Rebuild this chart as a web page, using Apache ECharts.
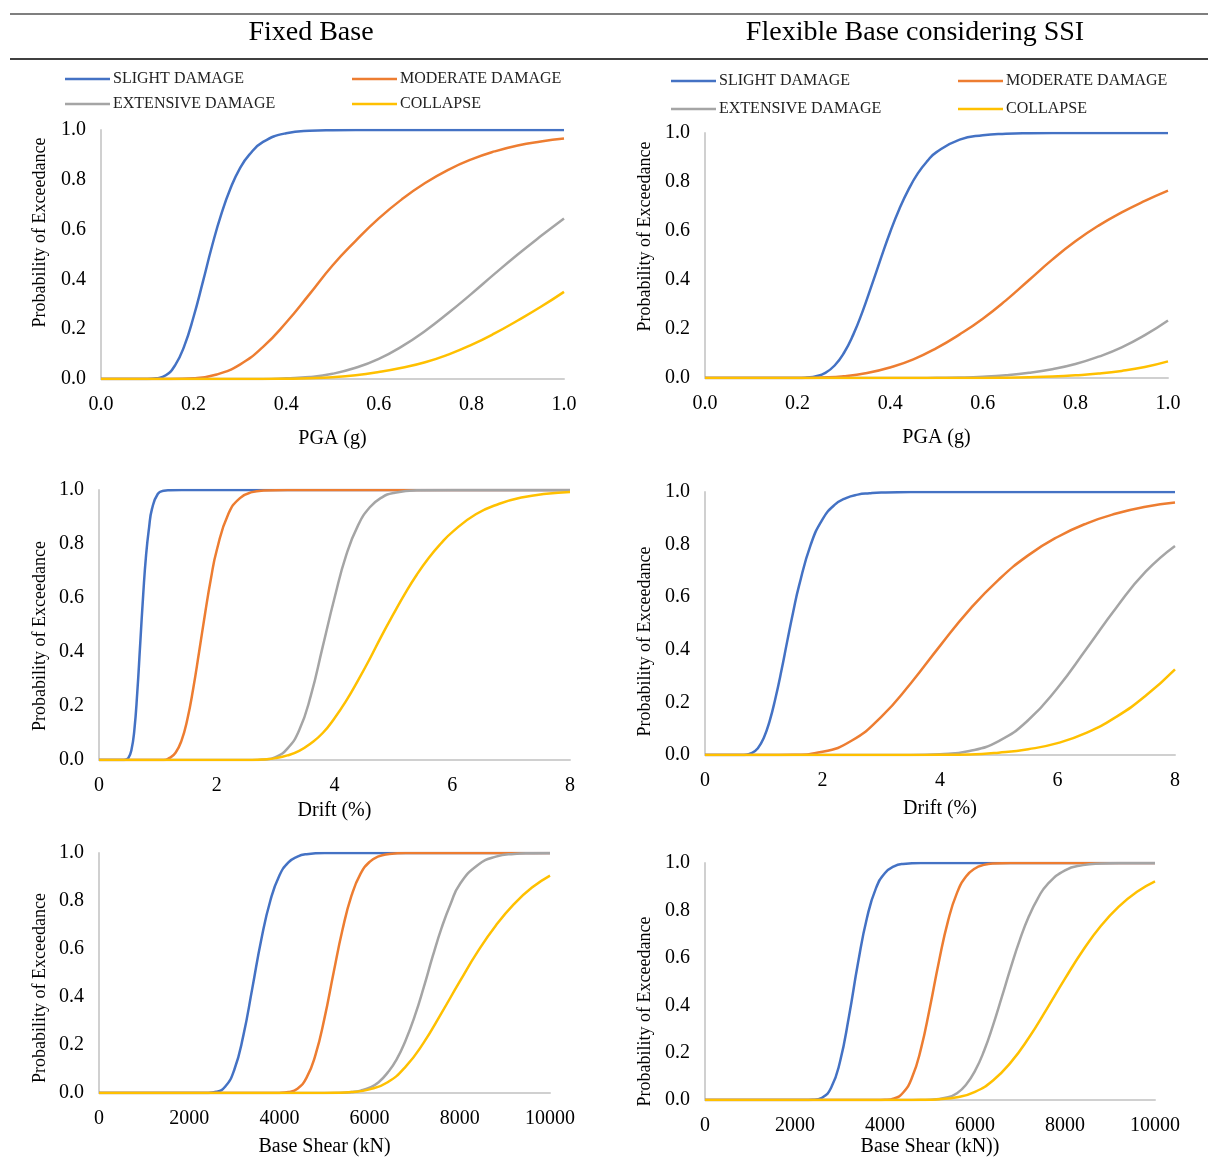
<!DOCTYPE html>
<html>
<head>
<meta charset="utf-8">
<script src="https://cdn.jsdelivr.net/npm/echarts@6/dist/echarts.min.js"></script>
<style>
  html, body { margin: 0; padding: 0; background: #fff; }
  #main { width: 1208px; height: 1158px; }
</style>
</head>
<body>
<div id="main"></div>
<script>
// damage states
const stateNames = ["SLIGHT DAMAGE", "MODERATE DAMAGE", "EXTENSIVE DAMAGE", "COLLAPSE"];
const stateColors = ["#4472C4", "#ED7D31", "#A5A5A5", "#FFC000"];

// Fixed base - PGA (g)
const fixedPgaSlight = [[0,0],[0.1,0],[0.12,0.003],[0.14,0.015],[0.16,0.055],[0.18,0.133],[0.2,0.25],[0.22,0.39],[0.24,0.535],[0.26,0.663],[0.28,0.767],[0.3,0.846],[0.32,0.9],[0.35,0.952],[0.4,0.987],[0.45,0.997],[0.5,0.999],[0.6,1],[1,1]];
const fixedPgaModerate = [[0,0],[0.15,0],[0.2,0.003],[0.25,0.018],[0.3,0.058],[0.35,0.129],[0.4,0.227],[0.45,0.34],[0.5,0.456],[0.55,0.555],[0.6,0.645],[0.65,0.722],[0.7,0.787],[0.75,0.84],[0.8,0.882],[0.85,0.914],[0.9,0.938],[0.95,0.954],[1,0.966]];
const fixedPgaExtensive = [[0,0],[0.35,0],[0.4,0.003],[0.45,0.008],[0.5,0.021],[0.55,0.045],[0.6,0.081],[0.65,0.131],[0.7,0.193],[0.75,0.265],[0.8,0.342],[0.85,0.422],[0.9,0.5],[0.95,0.574],[1,0.645]];
const fixedPgaCollapse = [[0,0],[0.35,0],[0.4,0.001],[0.45,0.003],[0.5,0.007],[0.55,0.015],[0.6,0.028],[0.65,0.045],[0.7,0.067],[0.75,0.098],[0.8,0.137],[0.85,0.183],[0.9,0.235],[0.95,0.29],[1,0.35]];

// Flexible base (SSI) - PGA (g)
const ssiPgaSlight = [[0,0],[0.2,0],[0.22,0.002],[0.24,0.007],[0.26,0.021],[0.28,0.051],[0.3,0.102],[0.32,0.176],[0.34,0.27],[0.36,0.378],[0.38,0.489],[0.4,0.596],[0.42,0.691],[0.44,0.771],[0.46,0.836],[0.48,0.885],[0.5,0.922],[0.55,0.973],[0.6,0.991],[0.65,0.997],[0.7,0.999],[0.8,1],[1,1]];
const ssiPgaModerate = [[0,0],[0.2,0],[0.25,0.002],[0.3,0.007],[0.35,0.02],[0.4,0.043],[0.45,0.076],[0.5,0.122],[0.55,0.178],[0.6,0.242],[0.65,0.317],[0.7,0.4],[0.75,0.483],[0.8,0.558],[0.85,0.622],[0.9,0.676],[0.95,0.723],[1,0.765]];
const ssiPgaExtensive = [[0,0],[0.45,0],[0.5,0.001],[0.55,0.002],[0.6,0.005],[0.65,0.011],[0.7,0.021],[0.75,0.036],[0.8,0.057],[0.85,0.087],[0.9,0.125],[0.95,0.175],[1,0.235]];
const ssiPgaCollapse = [[0,0],[0.6,0],[0.65,0.001],[0.7,0.003],[0.75,0.006],[0.8,0.011],[0.85,0.018],[0.9,0.029],[0.95,0.045],[1,0.068]];

// Fixed base - Drift (%)
const fixedDriftSlight = [[0,0],[0.4,0],[0.45,0.001],[0.5,0.008],[0.55,0.036],[0.6,0.11],[0.65,0.25],[0.7,0.43],[0.75,0.61],[0.8,0.76],[0.85,0.86],[0.9,0.93],[1,0.986],[1.1,0.997],[1.2,0.999],[1.4,1],[8,1]];
const fixedDriftModerate = [[0,0],[1.1,0],[1.2,0.008],[1.3,0.027],[1.4,0.071],[1.5,0.15],[1.6,0.264],[1.7,0.4],[1.8,0.54],[1.9,0.67],[2,0.777],[2.2,0.913],[2.4,0.971],[2.6,0.992],[2.8,0.998],[3.2,1],[8,1]];
const fixedDriftExtensive = [[0,0],[2.6,0],[2.8,0.002],[3,0.011],[3.2,0.042],[3.4,0.11],[3.6,0.24],[3.8,0.42],[4,0.6],[4.2,0.76],[4.4,0.869],[4.6,0.936],[4.8,0.972],[5,0.989],[5.4,0.999],[6,1],[8,1]];
const fixedDriftCollapse = [[0,0],[2.6,0],[2.8,0.002],[3,0.007],[3.2,0.017],[3.4,0.034],[3.6,0.062],[3.8,0.1],[4,0.155],[4.2,0.22],[4.4,0.295],[4.6,0.375],[4.8,0.46],[5,0.54],[5.2,0.617],[5.4,0.687],[5.6,0.748],[5.8,0.8],[6,0.844],[6.4,0.91],[6.8,0.949],[7.2,0.973],[7.6,0.986],[8,0.993]];

// Flexible base (SSI) - Drift (%)
const ssiDriftSlight = [[0,0],[0.6,0],[0.8,0.008],[0.9,0.026],[1,0.065],[1.1,0.129],[1.2,0.217],[1.3,0.32],[1.4,0.433],[1.5,0.543],[1.6,0.643],[1.8,0.8],[2,0.896],[2.2,0.95],[2.4,0.977],[2.6,0.99],[2.8,0.995],[3,0.998],[3.5,1],[8,1]];
const ssiDriftModerate = [[0,0],[1,0],[1.5,0.001],[2,0.012],[2.5,0.055],[3,0.145],[3.5,0.272],[4,0.415],[4.5,0.552],[5,0.667],[5.5,0.759],[6,0.829],[6.5,0.881],[7,0.918],[7.5,0.944],[8,0.96]];
const ssiDriftExtensive = [[0,0],[3.5,0],[4,0.003],[4.5,0.015],[5,0.053],[5.5,0.132],[6,0.255],[6.5,0.406],[7,0.56],[7.5,0.697],[8,0.795]];
const ssiDriftCollapse = [[0,0],[3.5,0],[4,0.0005],[4.5,0.002],[5,0.009],[5.5,0.022],[6,0.045],[6.5,0.085],[7,0.145],[7.5,0.225],[8,0.326]];

// Fixed base - Base shear (kN)
const fixedShearSlight = [[0,0],[2200,0],[2400,0.0004],[2600,0.005],[2800,0.027],[3000,0.097],[3200,0.239],[3400,0.437],[3600,0.641],[3800,0.802],[4000,0.906],[4200,0.961],[4400,0.985],[4600,0.995],[5000,1],[10000,1]];
const fixedShearModerate = [[0,0],[3800,0],[4000,0.0005],[4200,0.004],[4400,0.018],[4600,0.063],[4800,0.159],[5000,0.312],[5200,0.5],[5400,0.681],[5600,0.823],[5800,0.914],[6000,0.963],[6200,0.986],[6400,0.995],[6800,1],[10000,1]];
const fixedShearExtensive = [[0,0],[5000,0],[5400,0.001],[5600,0.004],[5800,0.01],[6000,0.022],[6200,0.045],[6400,0.085],[6600,0.14],[6800,0.22],[7000,0.32],[7200,0.44],[7400,0.57],[7600,0.69],[7800,0.79],[8000,0.87],[8400,0.95],[8800,0.985],[9200,0.996],[9600,0.999],[10000,1]];
const fixedShearCollapse = [[0,0],[4800,0],[5200,0.001],[5600,0.004],[6000,0.015],[6400,0.045],[6800,0.11],[7200,0.21],[7600,0.335],[8000,0.465],[8400,0.59],[8800,0.698],[9200,0.787],[9600,0.856],[10000,0.906]];

// Flexible base (SSI) - Base shear (kN)
const ssiShearSlight = [[0,0],[2200,0],[2400,0.001],[2600,0.01],[2800,0.051],[3000,0.162],[3200,0.354],[3400,0.578],[3600,0.769],[3800,0.894],[4000,0.958],[4200,0.986],[4400,0.996],[4800,1],[10000,1]];
const ssiShearModerate = [[0,0],[3800,0],[4000,0.001],[4200,0.007],[4400,0.031],[4600,0.095],[4800,0.217],[5000,0.393],[5200,0.586],[5400,0.755],[5600,0.874],[5800,0.943],[6000,0.977],[6200,0.992],[6400,0.998],[6800,1],[10000,1]];
const ssiShearExtensive = [[0,0],[4800,0],[5000,0.001],[5400,0.012],[5600,0.029],[5800,0.065],[6000,0.123],[6200,0.207],[6400,0.315],[6600,0.437],[6800,0.562],[7000,0.678],[7200,0.776],[7400,0.852],[7600,0.908],[8000,0.969],[8400,0.991],[8800,0.998],[9200,1],[10000,1]];
const ssiShearCollapse = [[0,0],[4400,0],[4800,0.001],[5200,0.004],[5600,0.012],[6000,0.035],[6400,0.083],[6800,0.16],[7200,0.264],[7600,0.386],[8000,0.512],[8400,0.632],[8800,0.735],[9200,0.817],[9600,0.879],[10000,0.923]];

const font = "'Liberation Serif', 'Times New Roman', serif";

// yPad shifts the rotated y title along the axis (left = up, right = down)
const panels = [
  { grid: { left: 101, top: 130, width: 463, height: 249 }, xMax: 1, xStep: 0.2, digits: 1, xName: "PGA (g)", nameGap: 50, yGap: 52,
    yPad: [0, 0, 0, 44], curves: [fixedPgaSlight, fixedPgaModerate, fixedPgaExtensive, fixedPgaCollapse] },
  { grid: { left: 705, top: 133, width: 463, height: 245 }, xMax: 1, xStep: 0.2, digits: 1, xName: "PGA (g)", nameGap: 50, yGap: 51,
    yPad: [0, 0, 0, 38], curves: [ssiPgaSlight, ssiPgaModerate, ssiPgaExtensive, ssiPgaCollapse] },
  { grid: { left: 99, top: 490, width: 471, height: 270 }, xMax: 8, xStep: 2, digits: 0, xName: "Drift (%)", nameGap: 41, yGap: 50,
    yPad: [0, 22, 0, 0], curves: [fixedDriftSlight, fixedDriftModerate, fixedDriftExtensive, fixedDriftCollapse] },
  { grid: { left: 705, top: 492, width: 470, height: 263 }, xMax: 8, xStep: 2, digits: 0, xName: "Drift (%)", nameGap: 44, yGap: 51,
    yPad: [0, 36, 0, 0], curves: [ssiDriftSlight, ssiDriftModerate, ssiDriftExtensive, ssiDriftCollapse] },
  { grid: { left: 99, top: 853, width: 451, height: 242 }, xMax: 10000, xStep: 2000, digits: 0, xName: "Base Shear (kN)", nameGap: 44, yGap: 50,
    yPad: [0, 30, 0, 0], curves: [fixedShearSlight, fixedShearModerate, fixedShearExtensive, fixedShearCollapse] },
  { grid: { left: 705, top: 863, width: 450, height: 242 }, xMax: 10000, xStep: 2000, digits: 0, xName: "Base Shear (kN))", nameGap: 36, yGap: 51,
    yPad: [0, 60, 0, 0], curves: [ssiShearSlight, ssiShearModerate, ssiShearExtensive, ssiShearCollapse] }
];

const axisLineStyle = { color: "#d0d0d0", width: 2 };
const grids = [], xAxes = [], yAxes = [], series = [];

panels.forEach((p, i) => {
  grids.push(p.grid);
  xAxes.push({
    type: "value", gridIndex: i, min: 0, max: p.xMax, interval: p.xStep,
    name: p.xName, nameLocation: "middle", nameGap: p.nameGap,
    nameTextStyle: { fontFamily: font, fontSize: 20, color: "#000" },
    axisLine: { show: true, onZero: false, lineStyle: axisLineStyle },
    axisTick: { show: false }, splitLine: { show: false },
    axisLabel: { fontFamily: font, fontSize: 20, color: "#000", margin: 16,
      formatter: v => v.toFixed(p.digits) }
  });
  yAxes.push({
    type: "value", gridIndex: i, min: 0, max: 1, interval: 0.2,
    name: "Probability of Exceedance", nameLocation: "middle", nameGap: p.yGap,
    nameTextStyle: { fontFamily: font, fontSize: 18, color: "#000", padding: p.yPad },
    axisLine: { show: true, lineStyle: axisLineStyle },
    axisTick: { show: false }, splitLine: { show: false },
    axisLabel: { fontFamily: font, fontSize: 20, color: "#000", margin: 15,
      formatter: v => v.toFixed(1) }
  });
  p.curves.forEach((data, k) => {
    series.push({
      name: stateNames[k], type: "line", xAxisIndex: i, yAxisIndex: i,
      data: data, smooth: 0.5, showSymbol: false,
      lineStyle: { width: 2.5, color: stateColors[k] },
      itemStyle: { color: stateColors[k] }
    });
  });
});

// legend block: two rows, two columns per side
const legendSpots = [
  { left: 65, top: 78, k: 0 }, { left: 352, top: 78, k: 1 },
  { left: 65, top: 103, k: 2 }, { left: 352, top: 103, k: 3 },
  { left: 671, top: 80, k: 0 }, { left: 958, top: 80, k: 1 },
  { left: 671, top: 108, k: 2 }, { left: 958, top: 108, k: 3 }
];
const legends = legendSpots.map(s => ({
  data: [stateNames[s.k]], left: s.left, top: s.top - 7, padding: 0,
  icon: "rect", itemWidth: 45, itemHeight: 2.5, itemGap: 0,
  textStyle: { fontFamily: font, fontSize: 16, color: "#222", padding: [0, 0, 0, -2] }
}));

const chart = echarts.init(document.getElementById("main"));
chart.setOption({
  backgroundColor: "#fff",
  animation: false,
  grid: grids,
  xAxis: xAxes,
  yAxis: yAxes,
  legend: legends,
  series: series,
  graphic: [
    { type: "line", shape: { x1: 10, y1: 14, x2: 1208, y2: 14 }, style: { stroke: "#555", lineWidth: 1.5 } },
    { type: "line", shape: { x1: 10, y1: 59, x2: 1208, y2: 59 }, style: { stroke: "#000", lineWidth: 1.5 } },
    { type: "text", style: { text: "Fixed Base", x: 311, y: 33, textAlign: "center", textVerticalAlign: "middle",
      font: "28px " + font, fill: "#000" } },
    { type: "text", style: { text: "Flexible Base considering SSI", x: 915, y: 33, textAlign: "center", textVerticalAlign: "middle",
      font: "28px " + font, fill: "#000" } }
  ]
});
</script>
</body>
</html>
